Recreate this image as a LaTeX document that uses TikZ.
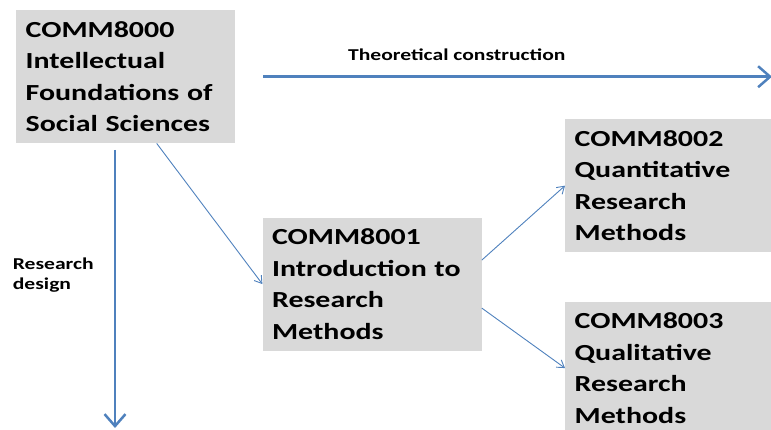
\documentclass[tikz,border=0pt]{standalone}
\usepackage{fontspec}
\newfontfamily\cfont[FakeStretch=1.3]{Carlito}
\usetikzlibrary{positioning,arrows.meta}
\definecolor{boxgray}{RGB}{217,217,217}
\definecolor{linkblue}{RGB}{79,129,189}

\begin{document}
\begin{tikzpicture}[
    x=1pt, y=-1pt,
    course/.style={rectangle, fill=boxgray, minimum width=219pt, minimum height=133pt, text width=200pt, inner xsep=9.5pt, inner ysep=0pt, align=left, font=\cfont\bfseries\fontsize{23}{31.5}\selectfont},
    heading/.style={inner sep=0pt, align=left, font=\cfont\bfseries\fontsize{16.6}{20}\selectfont},
    bigarrow/.style={-{Straight Barb[length=12pt,width=21pt]}, line width=2.5pt, draw=linkblue},
    arrow/.style={-{Straight Barb[length=7pt,width=9pt]}, line width=0.9pt, draw=linkblue}
]
\clip (0,0) rectangle (771,430);

% Courses
\node[course, anchor=north west] (c8000) at (16,10) {COMM8000\\Intellectual\\Foundations of\\Social Sciences};
\node[course, below right=74pt and 27pt of c8000] (c8001) {COMM8001\\Introduction to\\Research\\Methods};
\node[course, anchor=north west] (c8002) at (565,119) {COMM8002\\Quantitative\\Research\\Methods};
\node[course, below=49pt of c8002] (c8003) {COMM8003\\Qualitative\\Research\\Methods};

% Labels
\node[heading, anchor=base west] (theory) at (348,60.7) {Theoretical construction};
\node[heading, anchor=north west] (design) at (12.7,257.7) {Research\\design};

% Free ends of the long arrows
\coordinate (theory start) at (263,76.7);
\coordinate (theory end) at (772,76.7);
\coordinate (design start) at (115,150);
\coordinate (design end) at (115,428);

% Long arrows
\draw[bigarrow] (theory start) -- (theory end);
\draw[bigarrow] (design start) -- (design end);

% Links between courses
\draw[arrow] ([xshift=31pt]c8000.south) -- (c8001.west);
\draw[arrow] ([yshift=24pt]c8001.east) -- (c8002.west);
\draw[arrow] ([yshift=-24pt]c8001.east) -- (c8003.west);

\end{tikzpicture}
\end{document}
